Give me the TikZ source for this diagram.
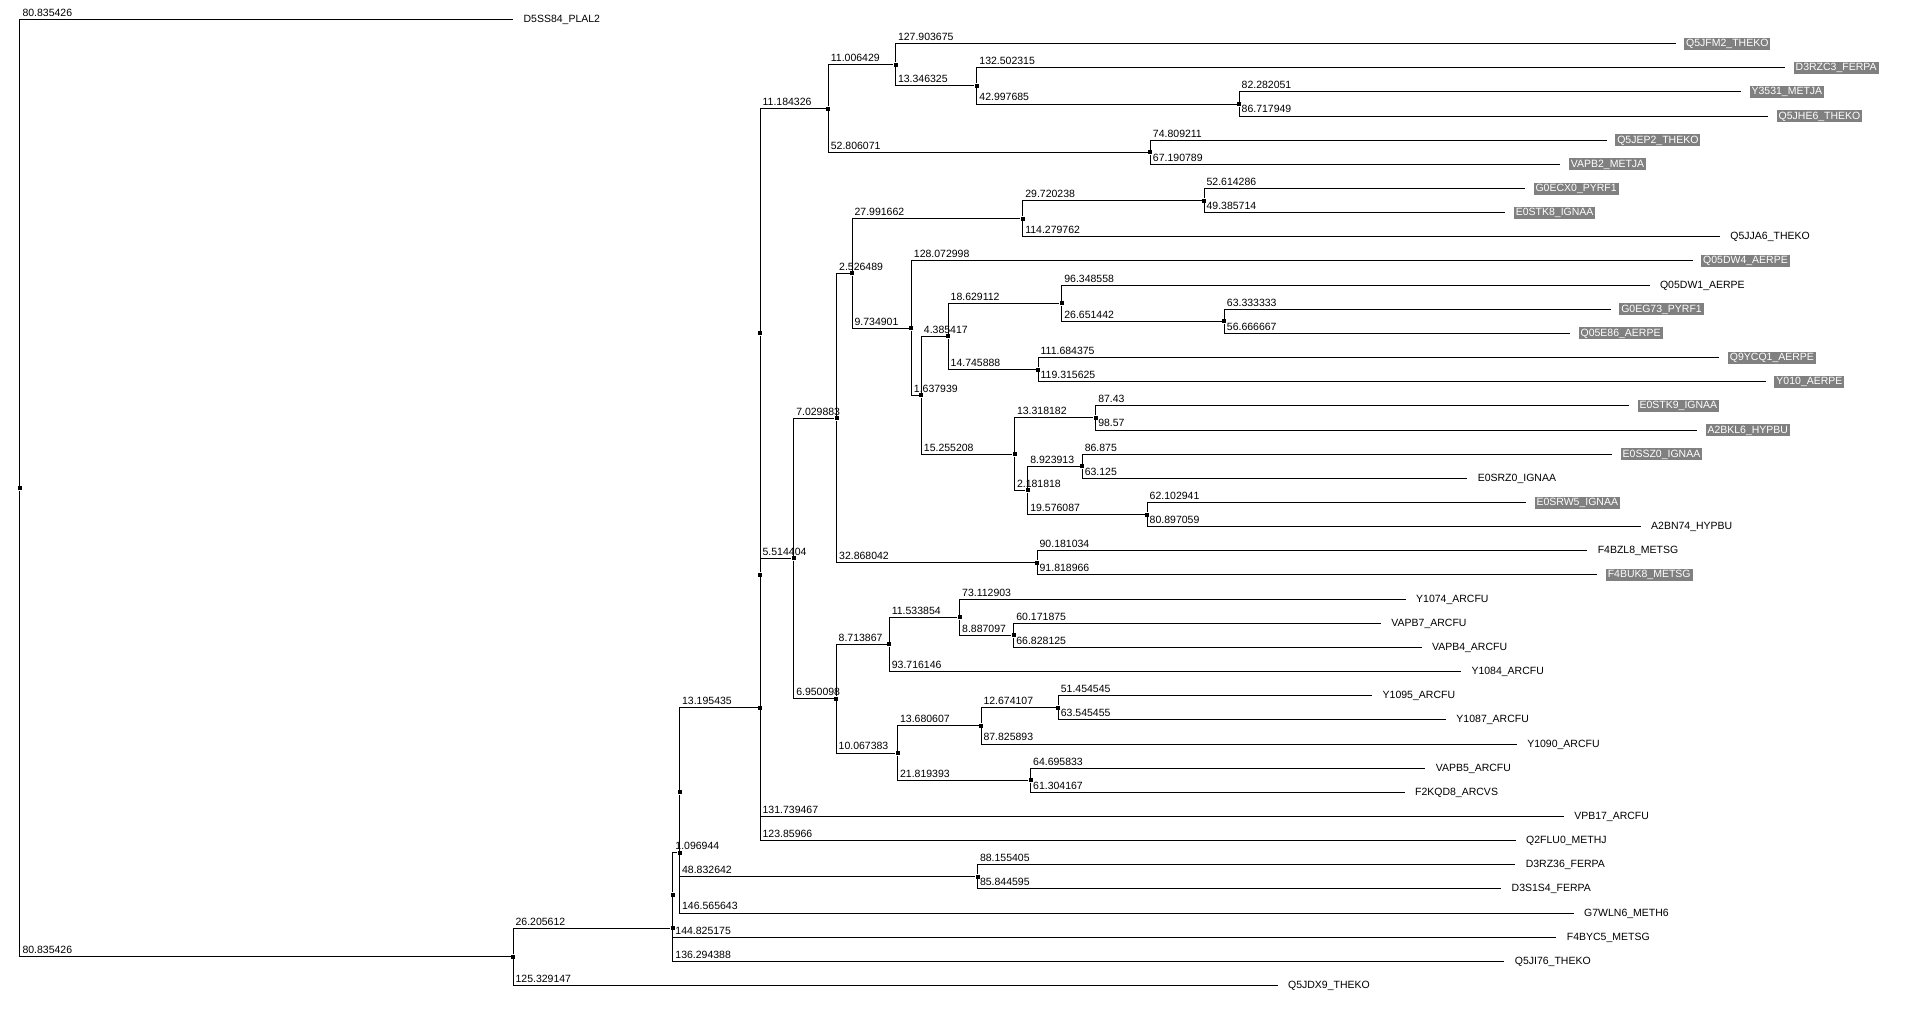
\documentclass[tikz,border=0pt]{standalone}
\usepackage{fontspec}
\setmainfont{Liberation Sans}
\usepackage{tikz}
\tikzset{iroot/.style={rectangle,fill=black,inner sep=0pt,minimum size=4pt},
	 taxon/.style={anchor=west,outer xsep=8.5pt,inner xsep=2pt,inner ysep=1.5pt,text height=7.5pt,text depth=1.5pt},
	 htaxon/.style={taxon,fill=gray,text=white},
	 blen/.style={pos=0.5,anchor=south west,inner sep=0pt,xshift=2pt,yshift=2.5pt}
	 }

\begin{document}
\begin{tikzpicture}[x=6.1pt,y=-24.15pt,line width=1pt,font=\fontsize{10.5}{12}\selectfont] % VAP phylogram
	\useasboundingbox (-20pt,19.5pt) rectangle (1892pt,-991.5pt);
	% leaves
	\node[taxon] (d5ss84) at (80.835426,0) {D5SS84\_PLAL2};
	\node[htaxon] (q5jfm2) at (271.427847,1) {Q5JFM2\_THEKO};
	\node[htaxon] (d3rzc3) at (289.372812,2) {D3RZC3\_FERPA};
	\node[htaxon] (y3531) at (282.150233,3) {Y3531\_METJA};
	\node[htaxon] (q5jhe6) at (286.586131,4) {Q5JHE6\_THEKO};
	\node[htaxon] (q5jep2) at (260.133025,5) {Q5JEP2\_THEKO};
	\node[htaxon] (vapb2) at (252.514603,6) {VAPB2\_METJA};
	\node[htaxon] (g0ecx0) at (246.730379,7) {G0ECX0\_PYRF1};
	\node[htaxon] (e0stk8) at (243.501807,8) {E0STK8\_IGNAA};
	\node[taxon] (q5jja6) at (278.675617,9) {Q5JJA6\_THEKO};
	\node[htaxon] (q05dw4) at (274.212092,10) {Q05DW4\_AERPE};
	\node[taxon] (q05dw1) at (267.14012,11) {Q05DW1\_AERPE};
	\node[htaxon] (g0eg73) at (260.776337,12) {G0EG73\_PYRF1};
	\node[htaxon] (q05e86) at (254.109671,13) {Q05E86\_AERPE};
	\node[htaxon] (q9ycq1) at (278.592713,14) {Q9YCQ1\_AERPE};
	\node[htaxon] (y010) at (286.223963,15) {Y010\_AERPE};
	\node[htaxon] (e0stk9) at (263.780423,16) {E0STK9\_IGNAA};
	\node[htaxon] (a2bkl6) at (274.920423,17) {A2BKL6\_HYPBU};
	\node[htaxon] (e0ssz0) at (261.012972,18) {E0SSZ0\_IGNAA};
	\node[taxon] (e0srz0) at (237.262972,19) {E0SRZ0\_IGNAA};
	\node[htaxon] (e0srw5) at (246.893087,20) {E0SRW5\_IGNAA};
	\node[taxon] (a2bn74) at (265.687205,21) {A2BN74\_HYPBU};
	\node[taxon] (f4bzl8) at (256.92678,22) {F4BZL8\_METSG};
	\node[htaxon] (f4buk8) at (258.564712,23) {F4BUK8\_METSG};
	\node[taxon] (y1074) at (227.158543,24) {Y1074\_ARCFU};
	\node[taxon] (vapb7) at (223.104612,25) {VAPB7\_ARCFU};
	\node[taxon] (vapb4) at (229.760862,26) {VAPB4\_ARCFU};
	\node[taxon] (y1084) at (236.227932,27) {Y1084\_ARCFU};
	\node[taxon] (y1095) at (221.674561,28) {Y1095\_ARCFU};
	\node[taxon] (y1087) at (233.765471,29) {Y1087\_ARCFU};
	\node[taxon] (y1090) at (245.371802,30) {Y1090\_ARCFU};
	\node[taxon] (vapb5) at (230.380528,31) {VAPB5\_ARCFU};
	\node[taxon] (f2kqd8) at (226.988862,32) {F2KQD8\_ARCVS};
	\node[taxon] (vpb17) at (253.072884,33) {VPB17\_ARCFU};
	\node[taxon] (q2flu0) at (245.193077,34) {Q2FLU0\_METHJ};
	\node[taxon] (d3rz36) at (245.126029,35) {D3RZ36\_FERPA};
	\node[taxon] (d3s1s4) at (242.815219,36) {D3S1S4\_FERPA};
	\node[taxon] (g7wln6) at (254.703625,37) {G7WLN6\_METH6};
	\node[taxon] (f4byc5) at (251.866213,38) {F4BYC5\_METSG};
	\node[taxon] (q5ji76) at (243.335426,39) {Q5JI76\_THEKO};
	\node[taxon] (q5jdx9) at (206.164573,40) {Q5JDX9\_THEKO};
	% inner nodes
	\node[iroot] (r) at (0,19.40626) {};
	\node[iroot] (n1) at (80.835426,38.81252) {};
	\node[iroot] (n2) at (107.041038,37.62503) {};
	\node[iroot] (n3) at (107.041038,36.25006) {};
	\node[iroot] (n4) at (108.137982,34.50012) {};
	\node[iroot] (n5) at (108.137982,32.00024) {};
	\node[iroot] (n6) at (156.970624,35.5) {};
	\node[iroot] (n7) at (121.333417,28.50049) {};
	\node[iroot] (n8) at (121.333417,23.00098) {};
	\node[iroot] (n9) at (121.333417,13.00195) {};
	\node[iroot] (n10) at (132.517743,3.6875) {};
	\node[iroot] (n11) at (143.524172,1.875) {};
	\node[iroot] (n12) at (156.870497,2.75) {};
	\node[iroot] (n13) at (199.868182,3.5) {};
	\node[iroot] (n14) at (185.323814,5.5) {};
	\node[iroot] (n15) at (126.847821,22.31641) {};
	\node[iroot] (n16) at (133.877704,16.50781) {};
	\node[iroot] (n17) at (136.404193,10.51563) {};
	\node[iroot] (n18) at (164.395855,8.25) {};
	\node[iroot] (n19) at (194.116093,7.5) {};
	\node[iroot] (n20) at (146.139094,12.78125) {};
	\node[iroot] (n21) at (147.777033,15.5625) {};
	\node[iroot] (n22) at (152.16245,13.125) {};
	\node[iroot] (n23) at (170.791562,11.75) {};
	\node[iroot] (n24) at (197.443004,12.5) {};
	\node[iroot] (n25) at (166.908338,14.5) {};
	\node[iroot] (n26) at (163.032241,18) {};
	\node[iroot] (n27) at (176.350423,16.5) {};
	\node[iroot] (n28) at (165.214059,19.5) {};
	\node[iroot] (n29) at (174.137972,18.5) {};
	\node[iroot] (n30) at (184.790146,20.5) {};
	\node[iroot] (n31) at (166.745746,22.5) {};
	\node[iroot] (n32) at (133.797919,28.125) {};
	\node[iroot] (n33) at (142.511786,25.875) {};
	\node[iroot] (n34) at (154.04564,24.75) {};
	\node[iroot] (n35) at (162.932737,25.5) {};
	\node[iroot] (n36) at (143.865302,30.375) {};
	\node[iroot] (n37) at (157.545909,29.25) {};
	\node[iroot] (n38) at (170.220016,28.5) {};
	\node[iroot] (n39) at (165.684695,31.5) {};
	% branches
	\draw (r) |- (d5ss84) node[blen] {80.835426};
	\draw (r) |- (n1) node[blen] {80.835426};
	\draw (n1) |- (n2) node[blen] {26.205612};
	\draw (n1) |- (q5jdx9) node[blen] {125.329147};
	\draw (n2) -- (n3);
	\draw (n2) |- (q5ji76) node[blen] {136.294388};
	\draw (n3) |- (n4) node[blen] {1.096944};
	\draw (n3) |- (f4byc5) node[blen] {144.825175};
	\draw (n4) -- (n5);
	\draw (n4) |- (g7wln6) node[blen] {146.565643};
	\draw (n5) |- (n7) node[blen] {13.195435};
	\draw (n5) |- (n6) node[blen] {48.832642};
	\draw (n6) |- (d3rz36) node[blen] {88.155405};
	\draw (n6) |- (d3s1s4) node[blen] {85.844595};
	\draw (n7) -- (n8);
	\draw (n7) |- (q2flu0) node[blen] {123.85966};
	\draw (n8) -- (n9);
	\draw (n8) |- (vpb17) node[blen] {131.739467};
	\draw (n9) |- (n10) node[blen] {11.184326};
	\draw (n9) |- (n15) node[blen] {5.514404};
	\draw (n10) |- (n11) node[blen] {11.006429};
	\draw (n10) |- (n14) node[blen] {52.806071};
	\draw (n11) |- (q5jfm2) node[blen] {127.903675};
	\draw (n11) |- (n12) node[blen] {13.346325};
	\draw (n12) |- (d3rzc3) node[blen] {132.502315};
	\draw (n12) |- (n13) node[blen] {42.997685};
	\draw (n13) |- (y3531) node[blen] {82.282051};
	\draw (n13) |- (q5jhe6) node[blen] {86.717949};
	\draw (n14) |- (q5jep2) node[blen] {74.809211};
	\draw (n14) |- (vapb2) node[blen] {67.190789};
	\draw (n15) |- (n16) node[blen] {7.029883};
	\draw (n15) |- (n32) node[blen] {6.950098};
	\draw (n16) |- (n17) node[blen] {2.526489};
	\draw (n16) |- (n31) node[blen] {32.868042};
	\draw (n17) |- (n18) node[blen] {27.991662};
	\draw (n17) |- (n20) node[blen] {9.734901};
	\draw (n18) |- (n19) node[blen] {29.720238};
	\draw (n18) |- (q5jja6) node[blen] {114.279762};
	\draw (n19) |- (g0ecx0) node[blen] {52.614286};
	\draw (n19) |- (e0stk8) node[blen] {49.385714};
	\draw (n20) |- (q05dw4) node[blen] {128.072998};
	\draw (n20) |- (n21) node[blen] {1.637939};
	\draw (n21) |- (n22) node[blen] {4.385417};
	\draw (n21) |- (n26) node[blen] {15.255208};
	\draw (n22) |- (n23) node[blen] {18.629112};
	\draw (n22) |- (n25) node[blen] {14.745888};
	\draw (n23) |- (q05dw1) node[blen] {96.348558};
	\draw (n23) |- (n24) node[blen] {26.651442};
	\draw (n24) |- (g0eg73) node[blen] {63.333333};
	\draw (n24) |- (q05e86) node[blen] {56.666667};
	\draw (n25) |- (q9ycq1) node[blen] {111.684375};
	\draw (n25) |- (y010) node[blen] {119.315625};
	\draw (n26) |- (n27) node[blen] {13.318182};
	\draw (n26) |- (n28) node[blen] {2.181818};
	\draw (n27) |- (e0stk9) node[blen] {87.43};
	\draw (n27) |- (a2bkl6) node[blen] {98.57};
	\draw (n28) |- (n29) node[blen] {8.923913};
	\draw (n28) |- (n30) node[blen] {19.576087};
	\draw (n29) |- (e0ssz0) node[blen] {86.875};
	\draw (n29) |- (e0srz0) node[blen] {63.125};
	\draw (n30) |- (e0srw5) node[blen] {62.102941};
	\draw (n30) |- (a2bn74) node[blen] {80.897059};
	\draw (n31) |- (f4bzl8) node[blen] {90.181034};
	\draw (n31) |- (f4buk8) node[blen] {91.818966};
	\draw (n32) |- (n33) node[blen] {8.713867};
	\draw (n32) |- (n36) node[blen] {10.067383};
	\draw (n33) |- (n34) node[blen] {11.533854};
	\draw (n33) |- (y1084) node[blen] {93.716146};
	\draw (n34) |- (y1074) node[blen] {73.112903};
	\draw (n34) |- (n35) node[blen] {8.887097};
	\draw (n35) |- (vapb7) node[blen] {60.171875};
	\draw (n35) |- (vapb4) node[blen] {66.828125};
	\draw (n36) |- (n37) node[blen] {13.680607};
	\draw (n36) |- (n39) node[blen] {21.819393};
	\draw (n37) |- (n38) node[blen] {12.674107};
	\draw (n37) |- (y1090) node[blen] {87.825893};
	\draw (n38) |- (y1095) node[blen] {51.454545};
	\draw (n38) |- (y1087) node[blen] {63.545455};
	\draw (n39) |- (vapb5) node[blen] {64.695833};
	\draw (n39) |- (f2kqd8) node[blen] {61.304167};
\end{tikzpicture}
\end{document}
